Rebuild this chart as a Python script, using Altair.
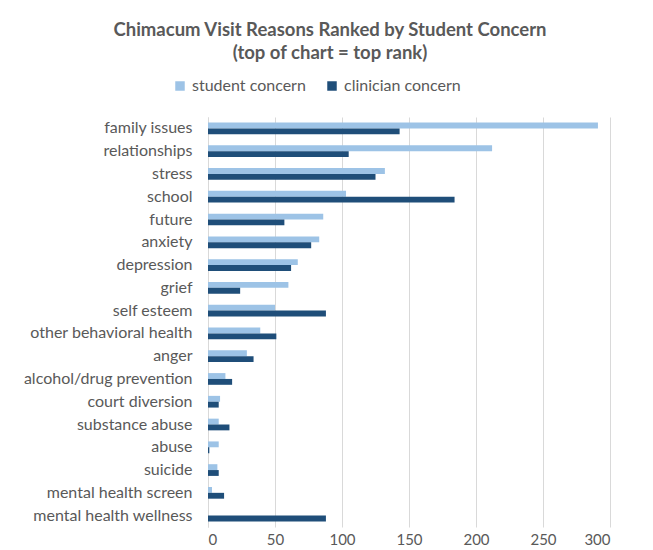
import altair as alt
import pandas as pd

categories = ["family issues", "relationships", "stress", "school", "future", "anxiety",
              "depression", "grief", "self esteem", "other behavioral health", "anger",
              "alcohol/drug prevention", "court diversion", "substance abuse", "abuse",
              "suicide", "mental health screen", "mental health wellness"]
student = [291, 212, 132, 103, 86, 83, 67, 60, 50, 39, 29, 13, 9, 8, 8, 7, 3, 0]
clinician = [143, 105, 125, 184, 57, 77, 62, 24, 88, 51, 34, 18, 8, 16, 1, 8, 12, 88]
series = ["student concern", "clinician concern"]
colors = ["#9DC3E6", "#1F4E79"]

rows = []
for c, s, k in zip(categories, student, clinician):
    rows.append({"reason": c, "series": series[0], "value": s})
    rows.append({"reason": c, "series": series[1], "value": k})
df = pd.DataFrame(rows)

FONT = "Lato"
GRAY = "#595959"

chart = alt.Chart(df).mark_bar().encode(
    x=alt.X("value:Q", scale=alt.Scale(domain=[0, 300], nice=False),
            axis=alt.Axis(title=None, values=[0, 50, 100, 150, 200, 250, 300],
                          domain=False, ticks=False, grid=True, gridColor="#d9d9d9",
                          labelColor=GRAY, labelFontSize=15, labelFont=FONT,
                          labelPadding=5)),
    y=alt.Y("reason:N", sort=categories,
            scale=alt.Scale(paddingInner=0.486, paddingOuter=0.243),
            axis=alt.Axis(title=None, ticks=False, domain=True, domainColor="#d9d9d9",
                          labelColor=GRAY, labelFontSize=16, labelFont=FONT,
                          labelPadding=16, labelLimit=300)),
    yOffset=alt.YOffset("series:N", sort=series, scale=alt.Scale(paddingInner=0, paddingOuter=0)),
    color=alt.Color("series:N", sort=series,
                    scale=alt.Scale(domain=series, range=colors),
                    legend=alt.Legend(title=None, orient="none", direction="horizontal",
                                      legendX=-36, legendY=-39, symbolType="square",
                                      symbolSize=90, symbolStrokeWidth=0,
                                      labelFontSize=16, labelFont=FONT, labelColor=GRAY,
                                      columnPadding=18, labelOffset=4)),
).properties(
    width=402, height=410,
    title=alt.Title(["Chimacum Visit Reasons Ranked by Student Concern",
                     "(top of chart = top rank)"],
                    anchor="middle", dx=-79, fontSize=18.5, font=FONT, fontWeight="bold",
                    color=GRAY, lineHeight=23, offset=16),
    autosize=alt.AutoSizeParams(type="none"),
    padding={"left": 200, "top": 109, "right": 35, "bottom": 30},
).configure_view(stroke=None)

chart.save("out.html", embed_options={"renderer": "svg", "actions": False})
